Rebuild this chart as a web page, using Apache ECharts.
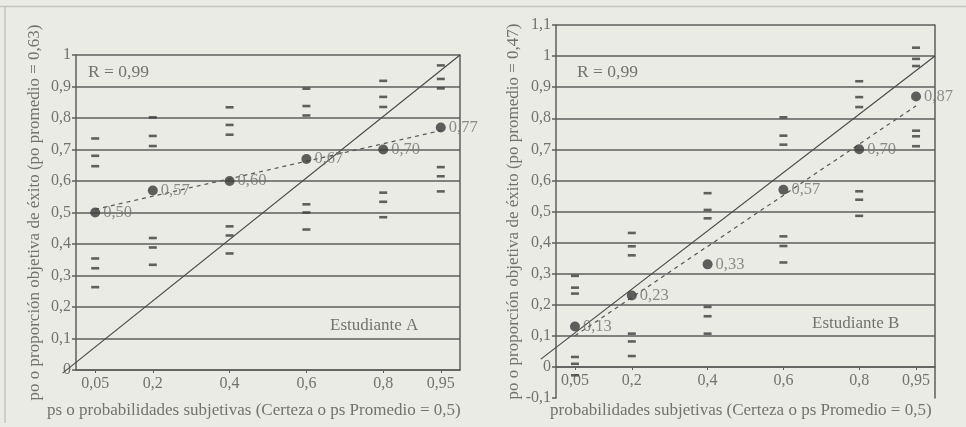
<!DOCTYPE html>
<html><head><meta charset="utf-8">
<script src="https://cdn.jsdelivr.net/npm/echarts@6/dist/echarts.min.js"></script>
<style>html,body{margin:0;padding:0;background:#ebebe6}#c{width:966px;height:427px}</style>
</head><body><div id="c"></div>
<script>
// ---- data ----
const xTicks = [0.05, 0.2, 0.4, 0.6, 0.8, 0.95];
const xTickLabels = ['0,05', '0,2', '0,4', '0,6', '0,8', '0,95'];

// Student A: mean objective proportion per subjective probability
const meanA = [0.50, 0.57, 0.60, 0.67, 0.70, 0.77];
const meanLabelsA = ['0,50', '0,57', '0,60', '0,67', '0,70', '0,77'];
// Student A: individual observations (dash markers) per column
const obsA005 = [0.735, 0.68, 0.647, 0.354, 0.323, 0.263];
const obsA02  = [0.802, 0.743, 0.711, 0.419, 0.389, 0.334];
const obsA04  = [0.834, 0.778, 0.747, 0.456, 0.427, 0.370];
const obsA06  = [0.893, 0.838, 0.808, 0.526, 0.500, 0.446];
const obsA08  = [0.918, 0.867, 0.835, 0.563, 0.534, 0.485];
const obsA095 = [0.967, 0.924, 0.894, 0.644, 0.615, 0.567];
// Student A trend line (dashed) end points and diagonal
const trendAx = [0.05, 0.95];
const trendAy = [0.51, 0.76];
const diagAx = [-0.035, 1.0];
const diagAy = [-0.01, 1.0];

// Student B
const meanB = [0.13, 0.23, 0.33, 0.57, 0.70, 0.87];
const meanLabelsB = ['0,13', '0,23', '0,33', '0,57', '0,70', '0,87'];
const obsB005 = [0.293, 0.255, 0.236, 0.032, 0.010, -0.027];
const obsB02  = [0.431, 0.388, 0.359, 0.107, 0.082, 0.035];
const obsB04  = [0.559, 0.505, 0.478, 0.193, 0.163, 0.107];
const obsB06  = [0.803, 0.744, 0.715, 0.420, 0.389, 0.336];
const obsB08  = [0.919, 0.868, 0.836, 0.565, 0.538, 0.486];
const obsB095 = [1.027, 0.991, 0.968, 0.760, 0.742, 0.710];
const trendBx = [0.05, 0.95];
const trendBy = [0.10, 0.84];
const diagBx = [-0.04, 1.0];
const diagBy = [0.025, 1.0];

const yTitleA = 'po o proporción objetiva de éxito (po promedio = 0,63)';
const yTitleB = 'po o proporción objetiva de éxito (po promedio = 0,47)';
const xTitleA = 'ps o probabilidades subjetivas (Certeza o ps Promedio = 0,5)';
const xTitleB = 'probabilidades subjetivas (Certeza o ps Promedio = 0,5)';
const rText = 'R = 0,99';
const nameA = 'Estudiante A';
const nameB = 'Estudiante B';

// ---- styles ----
const FONT = '"Liberation Serif", "DejaVu Serif", serif';
const TXT = '#72726e';
const GRID = '#5e5e5c';
const DOT = '#3a3a3a';

const obsA = [obsA005, obsA02, obsA04, obsA06, obsA08, obsA095];
const obsB = [obsB005, obsB02, obsB04, obsB06, obsB08, obsB095];
const flat = (obs) => obs.flatMap((col, i) => col.map(v => [xTicks[i], v]));
const pairs = (xs, ys) => xs.map((x, i) => [x, ys[i]]);
const fmt = v => String(+(+v).toFixed(2)).replace('.', ',');

function xAxis(gi, offset) {
  return {
    type: 'value', gridIndex: gi, min: 0, max: 1, offset: offset,
    axisLine: { show: true, onZero: false, lineStyle: { color: GRID, width: 1.5 } },
    axisTick: { show: true, length: 3, customValues: xTicks, lineStyle: { color: GRID } },
    axisLabel: { customValues: xTicks, formatter: v => xTickLabels[xTicks.indexOf(+(+v).toFixed(2))] ?? fmt(v),
      color: TXT, fontFamily: FONT, fontSize: 16, margin: 6 },
    splitLine: { show: false }
  };
}
function yAxis(gi, min, max, colors, title, gap) {
  return {
    type: 'value', gridIndex: gi, min, max, interval: 0.1,
    axisLine: { show: true, onZero: false, lineStyle: { color: GRID, width: 1.5 } },
    axisTick: { show: true, length: 4, lineStyle: { color: GRID, width: 1.5 } },
    axisLabel: { formatter: v => fmt(v), color: TXT, fontFamily: FONT, fontSize: 16, margin: 5 },
    splitLine: { show: true, lineStyle: { color: colors, width: 1.5 } },
    name: title, nameLocation: 'middle', nameRotate: 90, nameGap: gap,
    nameTextStyle: { color: TXT, fontFamily: FONT, fontSize: 17 }
  };
}
function rightAxis(gi, min, max) {
  return {
    type: 'value', gridIndex: gi, min, max, position: 'right',
    axisLine: { show: true, onZero: false, lineStyle: { color: GRID, width: 1.5 } },
    axisTick: { show: false }, axisLabel: { show: false }, splitLine: { show: false }
  };
}
function hiddenAxis(gi, min, max) {
  return { type: 'value', gridIndex: gi, min, max, show: false, splitLine: { show: false } };
}
function series(gi, means, labels, obs, tx, ty) {
  const xi = gi, yi = gi * 2;
  return [
    { type: 'line', xAxisIndex: xi, yAxisIndex: yi, data: pairs(tx, ty), clip: false, symbol: 'none',
      lineStyle: { color: '#555', width: 1.2, type: [4, 4] }, z: 3, silent: true },
    { type: 'scatter', xAxisIndex: xi, yAxisIndex: yi, data: flat(obs), symbol: 'rect', symbolSize: [8, 2.6],
      itemStyle: { color: '#3c3c3c' }, z: 4, silent: true },
    { type: 'scatter', xAxisIndex: xi, yAxisIndex: yi, data: pairs(xTicks, means), symbol: 'circle', symbolSize: 10,
      itemStyle: { color: DOT }, z: 5, silent: true,
      label: { show: true, position: 'right', distance: 3, formatter: p => labels[p.dataIndex],
        color: TXT, fontFamily: FONT, fontSize: 16.5 } }
  ];
}
function diagSeries(xi, yi, dx, dy) {
  return { type: 'line', xAxisIndex: xi, yAxisIndex: yi, data: pairs(dx, dy), clip: false, symbol: 'none',
    lineStyle: { color: '#4a4a4a', width: 1.2 }, z: 3, silent: true };
}

const colsA = Array(11).fill(GRID);
const colsB = ['rgba(0,0,0,0)'].concat(Array(12).fill(GRID));

// visible grid boxes, and wider hidden grids (x from -0.05) so the diagonals can reach left of the axis
const gA = { left: 76, right: 506, top: 55, bottom: 57 };
const gB = { left: 556, right: 31, top: 25, bottom: 29 };
const pxA = (966 - gA.left - gA.right) * 0.05;
const pxB = (966 - gB.left - gB.right) * 0.05;

const chart = echarts.init(document.getElementById('c'), null, { renderer: 'canvas' });
chart.setOption({
  backgroundColor: '#ebebe6',
  animation: false,
  grid: [
    gA, gB,
    { left: gA.left - pxA, right: gA.right, top: gA.top, bottom: gA.bottom },
    { left: gB.left - pxB, right: gB.right, top: gB.top, bottom: gB.bottom }
  ],
  xAxis: [xAxis(0, 0), xAxis(1, -31), hiddenAxis(2, -0.05, 1), hiddenAxis(3, -0.05, 1)],
  yAxis: [
    yAxis(0, 0, 1, colsA, yTitleA, 33), rightAxis(0, 0, 1),
    yAxis(1, -0.1, 1.1, colsB, yTitleB, 33), rightAxis(1, -0.1, 1.1),
    hiddenAxis(2, 0, 1), hiddenAxis(3, -0.1, 1.1)
  ],
  series: [
    diagSeries(2, 4, diagAx, diagAy),
    diagSeries(3, 5, diagBx, diagBy),
    ...series(0, meanA, meanLabelsA, obsA, trendAx, trendAy),
    ...series(1, meanB, meanLabelsB, obsB, trendBx, trendBy)
  ],
  graphic: [
    { type: 'line', shape: { x1: 0, y1: 6.5, x2: 966, y2: 6.5 }, style: { stroke: '#c4c4be', lineWidth: 1.5 } },
    { type: 'line', shape: { x1: 5, y1: 6.5, x2: 5, y2: 423 }, style: { stroke: '#c4c4be', lineWidth: 1.5 } },
    { type: 'text', left: 88, top: 63, style: { text: rText, fill: TXT, font: '17.5px ' + FONT } },
    { type: 'text', left: 577, top: 63, style: { text: rText, fill: TXT, font: '17.5px ' + FONT } },
    { type: 'text', left: 330, top: 317, style: { text: nameA, fill: TXT, font: '17px ' + FONT } },
    { type: 'text', left: 812, top: 315, style: { text: nameB, fill: TXT, font: '17px ' + FONT } },
    { type: 'text', left: 47, top: 402, style: { text: xTitleA, fill: TXT, font: '17px ' + FONT } },
    { type: 'text', left: 550, top: 402, style: { text: xTitleB, fill: TXT, font: '17px ' + FONT } }
  ]
});
</script></body></html>
